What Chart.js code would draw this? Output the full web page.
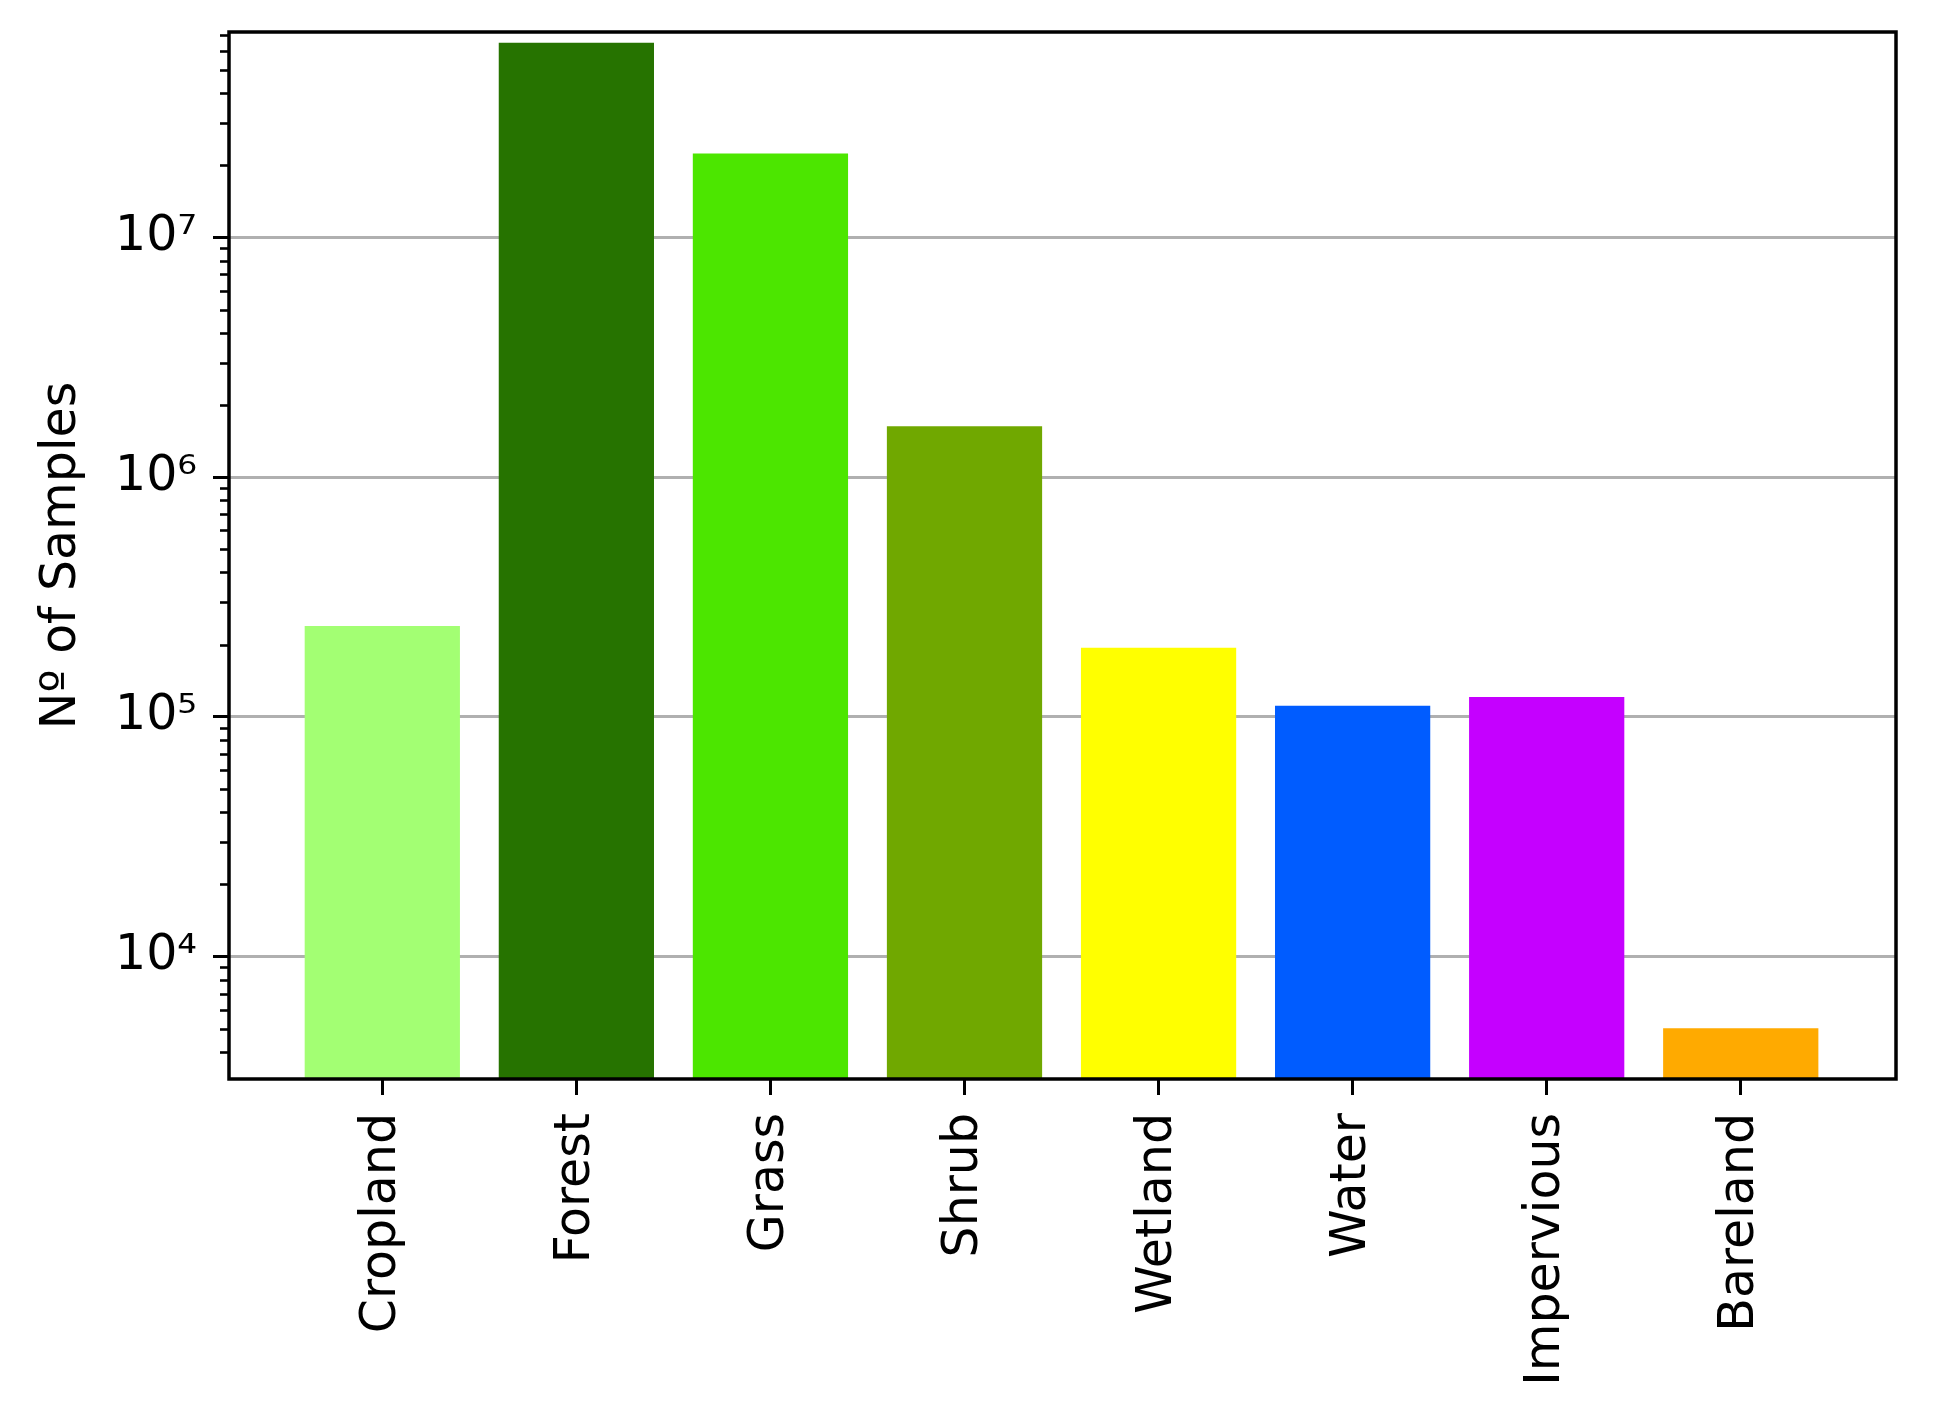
<!DOCTYPE html>
<html>
<head>
<meta charset="utf-8">
<title>Nº of Samples</title>
<script src="https://cdn.jsdelivr.net/npm/chart.js@4.4.1/dist/chart.umd.min.js"></script>
<style>
  html, body { margin: 0; padding: 0; background: #ffffff; }
  #contenedor { width: 1933px; height: 1420px; }
</style>
</head>
<body>
<div id="contenedor"><canvas id="graficoMuestras"></canvas></div>
<script>
// =====================================================
// DATOS
// =====================================================

const categorias = ["Cropland", "Forest", "Grass", "Shrub", "Wetland", "Water", "Impervious", "Bareland"];
const muestras = [239000, 64900000, 22400000, 1630000, 194000, 111000, 121000, 5010];
const colores = ["#a3ff73", "#267300", "#4ce600", "#70a800", "#ffff00", "#005cff", "#c500ff", "#ffaa00"];

const yTicks = [1e4, 1e5, 1e6, 1e7];
const yTickLabels = ["10⁴", "10⁵", "10⁶", "10⁷"];

const Y_MIN = 3080;
const Y_MAX = 7.19e7;
const X_MIN = -0.79;
const X_MAX = 7.8;

const FUENTE = "'DejaVu Sans', sans-serif";

// =====================================================
// PLUGINS: ticks menores y marco
// =====================================================

const ticksMenores = {
  id: "ticksMenores",
  afterDraw(chart) {
    const y = chart.scales.y;
    const ctx = chart.ctx;
    const izq = chart.chartArea.left;
    ctx.save();
    ctx.strokeStyle = "#000";
    ctx.lineWidth = 2.6;
    for (let e = Math.floor(Math.log10(Y_MIN)); e <= Math.ceil(Math.log10(Y_MAX)); e++) {
      for (let k = 2; k <= 9; k++) {
        const v = k * Math.pow(10, e);
        if (v < Y_MIN || v > Y_MAX) continue;
        const py = Math.round(y.getPixelForValue(v)) + 0.5;
        ctx.beginPath();
        ctx.moveTo(izq - 9, py);
        ctx.lineTo(izq, py);
        ctx.stroke();
      }
    }
    ctx.restore();
  }
};

const marco = {
  id: "marco",
  afterDraw(chart) {
    const {left, top, right, bottom} = chart.chartArea;
    const ctx = chart.ctx;
    ctx.save();
    ctx.strokeStyle = "#000";
    ctx.lineWidth = 3.5;
    ctx.strokeRect(left, top, right - left, bottom - top);
    ctx.restore();
  }
};

// =====================================================
// GRAFICO
// =====================================================

const ctx = document.getElementById("graficoMuestras").getContext("2d");

new Chart(ctx, {
  type: "bar",
  data: {
    datasets: [{
      data: muestras.map((v, i) => ({ x: i, y: v })),
      backgroundColor: colores,
      borderWidth: 0,
      barPercentage: 0.8,
      categoryPercentage: 1
    }]
  },
  options: {
    responsive: true,
    maintainAspectRatio: false,
    animation: false,
    layout: { padding: { top: 32, right: 37, left: 0, bottom: 0 } },
    plugins: {
      legend: { display: false },
      tooltip: { enabled: false }
    },
    scales: {
      x: {
        type: "linear",
        min: X_MIN,
        max: X_MAX,
        offset: false,
        afterBuildTicks: axis => {
          axis.ticks = categorias.map((c, i) => ({ value: i }));
        },
        afterFit: scale => {
          scale.height = 341;
          scale.paddingLeft = 0;
          scale.paddingRight = 0;
        },
        border: { display: false },
        grid: {
          offset: false,
          drawOnChartArea: false,
          tickLength: 16,
          tickWidth: 3,
          tickColor: "#000"
        },
        ticks: {
          autoSkip: false,
          minRotation: 90,
          maxRotation: 90,
          padding: 18,
          color: "#000",
          font: { family: FUENTE, size: 49 },
          callback: (value) => categorias[value] ?? ""
        }
      },
      y: {
        type: "logarithmic",
        min: Y_MIN,
        max: Y_MAX,
        z: 1,
        afterBuildTicks: axis => {
          axis.ticks = yTicks.map(v => ({ value: v }));
        },
        afterFit: scale => {
          scale.width = 229;
          scale.paddingTop = 0;
          scale.paddingBottom = 0;
        },
        border: { display: false },
        grid: {
          color: "#b0b0b0",
          lineWidth: 3,
          tickLength: 16,
          tickWidth: 3,
          tickColor: "#000"
        },
        ticks: {
          padding: 16,
          color: "#000",
          font: { family: FUENTE, size: 49 },
          callback: (value, index) => yTickLabels[index]
        },
        title: {
          display: true,
          text: "Nº of Samples",
          color: "#000",
          padding: { top: 33, bottom: 0 },
          font: { family: FUENTE, size: 49 }
        }
      }
    }
  },
  plugins: [ticksMenores, marco]
});
</script>
</body>
</html>
